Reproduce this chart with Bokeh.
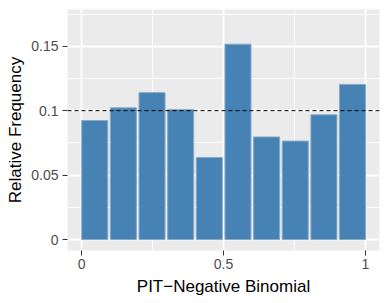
from bokeh.plotting import figure
from bokeh.models import FixedTicker, Span, Range1d
from bokeh.embed import file_html
from bokeh.resources import INLINE

# Data: PIT histogram (relative frequency per bin)
bin_centers = [0.046, 0.147, 0.248, 0.349, 0.450, 0.551, 0.652, 0.753, 0.854, 0.955]
rel_freq = [0.0923, 0.1022, 0.1140, 0.1008, 0.0636, 0.1516, 0.0796, 0.0764, 0.0968, 0.1204]
reference_level = 0.1
x_ticks = [0, 0.5, 1]
x_tick_labels = {0: "0", 0.5: "0.5", 1: "1"}
y_ticks = [0, 0.05, 0.1, 0.15]
y_tick_labels = {0: "0", 0.05: "0.05", 0.1: "0.1", 0.15: "0.15"}

bar_width = 0.0917

p = figure(width=388, height=303, output_backend="svg", toolbar_location=None,
           x_range=Range1d(-0.05, 1.05), y_range=Range1d(-0.0085, 0.1785),
           min_border_left=67, min_border_right=9, min_border_top=9, min_border_bottom=53)

p.background_fill_color = "#EBEBEB"
p.border_fill_color = "white"
p.outline_line_color = None

p.vbar(x=bin_centers, top=rel_freq, bottom=0, width=bar_width,
       fill_color="#4682B4", line_color="#86A9C9", line_width=1)

p.add_layout(Span(location=reference_level, dimension="width", line_color="black",
                  line_width=1, line_dash="4 3"))

p.xaxis.ticker = FixedTicker(ticks=x_ticks, minor_ticks=[0.25, 0.75])
p.yaxis.ticker = FixedTicker(ticks=y_ticks, minor_ticks=[0.025, 0.075, 0.125, 0.175])
p.xaxis.major_label_overrides = x_tick_labels
p.yaxis.major_label_overrides = y_tick_labels

for ax in (p.xaxis, p.yaxis):
    ax.axis_line_color = None
    ax.major_tick_line_color = "#333333"
    ax.major_tick_line_width = 1
    ax.major_tick_in = 0
    ax.major_tick_out = 5
    ax.minor_tick_line_color = None
    ax.major_label_text_font = "Liberation Sans"
    ax.major_label_text_font_size = "14px"
    ax.major_label_text_color = "#4D4D4D"
    ax.axis_label_text_font = "Liberation Sans"
    ax.axis_label_text_font_size = "17px"
    ax.axis_label_text_font_style = "normal"
    ax.axis_label_text_color = "black"

p.xaxis.axis_label = "PIT\u2212Negative Binomial"
p.yaxis.axis_label = "Relative Frequency"
p.xaxis.major_label_standoff = 3
p.yaxis.major_label_standoff = 4
p.xaxis.axis_label_standoff = 5
p.yaxis.axis_label_standoff = 3

for g in (p.xgrid, p.ygrid):
    g.grid_line_color = "white"
    g.grid_line_width = 1.8
    g.minor_grid_line_color = "white"
    g.minor_grid_line_width = 0.9

open("out.html", "w").write(file_html(p, INLINE))
